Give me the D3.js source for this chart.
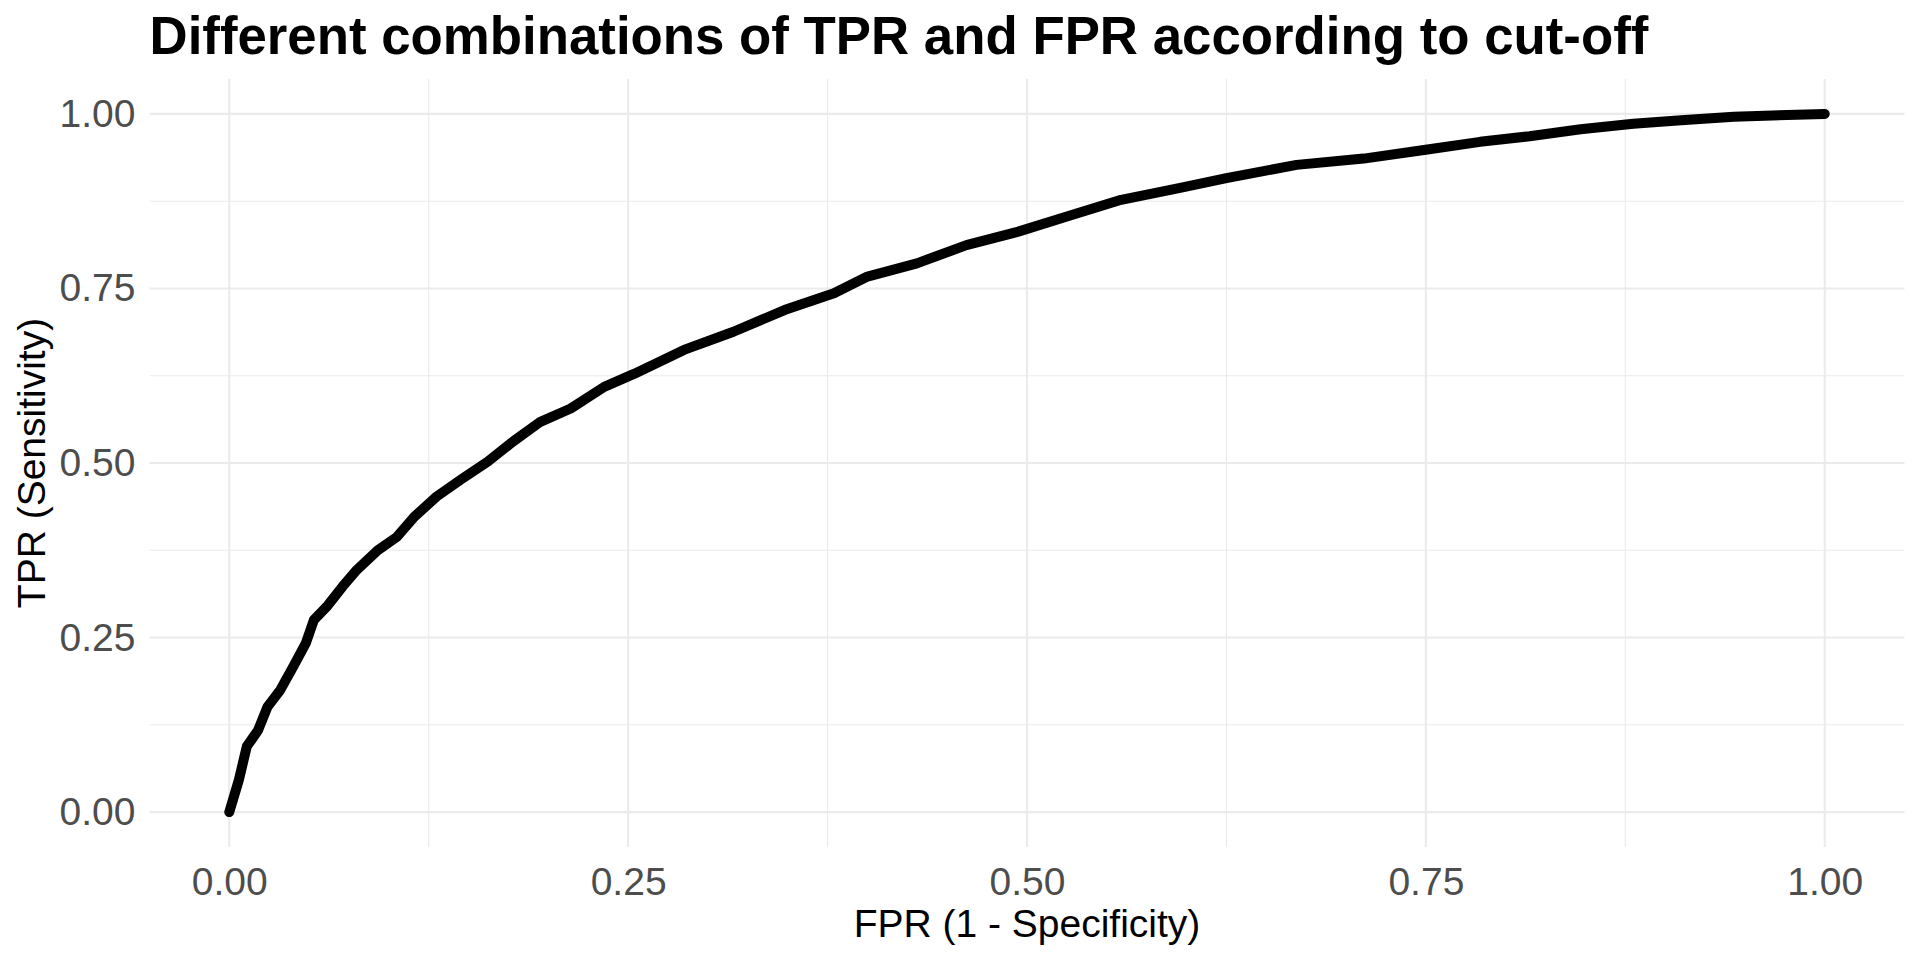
<!DOCTYPE html>
<html>
<head>
<meta charset="utf-8">
<script src="https://cdn.jsdelivr.net/npm/d3@7"></script>
<style>
  html, body { margin: 0; padding: 0; background: #fff; }
  svg { display: block; font-family: "Liberation Sans", Arial, sans-serif; }
</style>
</head>
<body>
<svg id="chart" width="1920" height="960"></svg>
<script>
// Dữ liệu: FPR (trục x) và TPR (trục y)
const fpr = [0, 0.006, 0.011, 0.018, 0.024, 0.032, 0.040, 0.048, 0.053, 0.061,
  0.071, 0.080, 0.093, 0.105, 0.116, 0.130, 0.145, 0.162, 0.178, 0.195,
  0.214, 0.235, 0.254, 0.285, 0.316, 0.348, 0.379, 0.400, 0.431, 0.462,
  0.494, 0.525, 0.559, 0.596, 0.625, 0.669, 0.711, 0.751, 0.784, 0.815,
  0.847, 0.880, 0.910, 0.943, 1.0];
const tpr = [0, 0.046, 0.094, 0.117, 0.151, 0.175, 0.208, 0.242, 0.275, 0.294,
  0.323, 0.347, 0.375, 0.394, 0.423, 0.452, 0.476, 0.502, 0.531, 0.559,
  0.578, 0.609, 0.628, 0.662, 0.688, 0.719, 0.743, 0.767, 0.786, 0.812,
  0.831, 0.853, 0.877, 0.894, 0.908, 0.927, 0.936, 0.949, 0.960, 0.968,
  0.978, 0.986, 0.991, 0.996, 1.0];
const majorTicks = [0, 0.25, 0.5, 0.75, 1];
const minorTicks = [0.125, 0.375, 0.625, 0.875];
const tickLabels = ["0.00", "0.25", "0.50", "0.75", "1.00"];

const titleText = "Different combinations of TPR and FPR according to cut-off";
const xTitle = "FPR (1 - Specificity)";
const yTitle = "TPR (Sensitivity)";

const svg = d3.select("#chart");
const panel = { left: 149.5, right: 1904.5, top: 79, bottom: 847 };

const x = d3.scaleLinear().domain([-0.05, 1.05]).range([panel.left, panel.right]);
const y = d3.scaleLinear().domain([-0.05, 1.05]).range([panel.bottom, panel.top]);

const grid = svg.append("g");
// lưới phụ
grid.selectAll(".vminor").data(minorTicks).enter().append("line")
  .attr("x1", d => x(d)).attr("x2", d => x(d))
  .attr("y1", panel.top).attr("y2", panel.bottom)
  .attr("stroke", "#ebebeb").attr("stroke-width", 1.1);
grid.selectAll(".hminor").data(minorTicks).enter().append("line")
  .attr("y1", d => y(d)).attr("y2", d => y(d))
  .attr("x1", panel.left).attr("x2", panel.right)
  .attr("stroke", "#ebebeb").attr("stroke-width", 1.1);
// lưới chính
grid.selectAll(".vmajor").data(majorTicks).enter().append("line")
  .attr("x1", d => x(d)).attr("x2", d => x(d))
  .attr("y1", panel.top).attr("y2", panel.bottom)
  .attr("stroke", "#ebebeb").attr("stroke-width", 2.1);
grid.selectAll(".hmajor").data(majorTicks).enter().append("line")
  .attr("y1", d => y(d)).attr("y2", d => y(d))
  .attr("x1", panel.left).attr("x2", panel.right)
  .attr("stroke", "#ebebeb").attr("stroke-width", 2.1);

// Trục (chỉ nhãn, không có đường trục)
const xAxis = svg.append("g")
  .attr("transform", `translate(0,${panel.bottom})`)
  .call(d3.axisBottom(x).tickValues(majorTicks).tickFormat((d, i) => tickLabels[i]).tickSize(0).tickPadding(20));
xAxis.select(".domain").remove();
xAxis.selectAll("text")
  .attr("font-size", 39).attr("fill", "#4d4d4d")
  .attr("font-family", "Liberation Sans, Arial, sans-serif");

const yAxis = svg.append("g")
  .attr("transform", `translate(${panel.left},0)`)
  .call(d3.axisLeft(y).tickValues(majorTicks).tickFormat((d, i) => tickLabels[i]).tickSize(0).tickPadding(14));
yAxis.select(".domain").remove();
yAxis.selectAll("text")
  .attr("font-size", 39).attr("fill", "#4d4d4d")
  .attr("font-family", "Liberation Sans, Arial, sans-serif");

// Đường cong ROC
const pts = fpr.map((f, i) => ({ fpr: f, tpr: tpr[i] }));
const line = d3.line().x(d => x(d.fpr)).y(d => y(d.tpr));
svg.append("path")
  .datum(pts)
  .attr("fill", "none")
  .attr("stroke", "#000")
  .attr("stroke-width", 10)
  .attr("stroke-linecap", "round")
  .attr("stroke-linejoin", "round")
  .attr("d", line);

// Tiêu đề
svg.append("text")
  .attr("x", panel.left).attr("y", 54)
  .attr("font-size", 52.8).attr("font-weight", "bold")
  .attr("fill", "#000")
  .text(titleText);

svg.append("text")
  .attr("x", (panel.left + panel.right) / 2).attr("y", 937)
  .attr("text-anchor", "middle")
  .attr("font-size", 39).attr("fill", "#000")
  .text(xTitle);

svg.append("text")
  .attr("transform", `translate(45,${(panel.top + panel.bottom) / 2}) rotate(-90)`)
  .attr("text-anchor", "middle")
  .attr("font-size", 39).attr("fill", "#000")
  .text(yTitle);
</script>
</body>
</html>
